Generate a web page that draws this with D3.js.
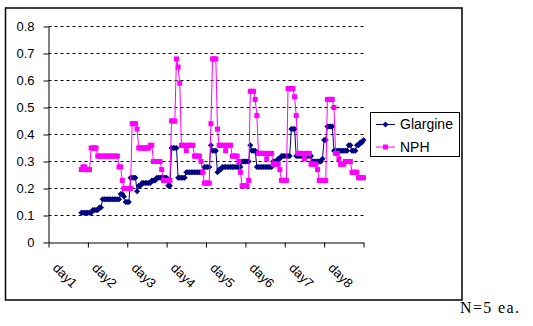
<!DOCTYPE html>
<html>
<head>
<meta charset="utf-8">
<script src="https://cdn.jsdelivr.net/npm/d3@7"></script>
<style>
  body { margin: 0; background: #fff; }
  svg { display: block; }
</style>
</head>
<body>
<script>
const width = 533;
const height = 326;

// category labels on the x axis (one per day, 24 hourly points each)
const days = ["day1", "day2", "day3", "day4", "day5", "day6", "day7", "day8"];
const hoursPerDay = 24;
const firstHour = 20; // both series start late on day1

const yTicks = [0, 0.1, 0.2, 0.3, 0.4, 0.5, 0.6, 0.7, 0.8];

// hourly values, hour 20 .. hour 192
const glargine = [
  0.11, 0.11, 0.11, 0.11, 0.11, 0.11, 0.11,
  0.12, 0.12, 0.12, 0.12,
  0.13, 0.13,
  0.16, 0.16, 0.16, 0.16, 0.16, 0.16, 0.16, 0.16, 0.16, 0.16, 0.16,
  0.18, 0.18, 0.17,
  0.15, 0.15, 0.15,
  0.24, 0.24, 0.24, 0.24,
  0.19, 0.21, 0.21,
  0.22, 0.22, 0.22, 0.22, 0.22, 0.22,
  0.23, 0.23, 0.23,
  0.24, 0.24, 0.24, 0.24, 0.24, 0.24, 0.24,
  0.21, 0.21,
  0.35, 0.35, 0.35, 0.35,
  0.24, 0.24, 0.24, 0.24, 0.24,
  0.26, 0.26, 0.26, 0.26, 0.26, 0.26, 0.26, 0.26, 0.26, 0.26, 0.26,
  0.28, 0.28, 0.28, 0.28,
  0.36, 0.34, 0.34, 0.34,
  0.26, 0.27, 0.27,
  0.28, 0.28, 0.28, 0.28, 0.28, 0.28, 0.28, 0.28, 0.28, 0.28, 0.28, 0.28,
  0.30, 0.30, 0.30, 0.30, 0.30,
  0.36, 0.34, 0.34, 0.34,
  0.28, 0.28, 0.28, 0.28, 0.28, 0.28, 0.28, 0.28, 0.28, 0.28,
  0.30, 0.30, 0.30,
  0.31, 0.31,
  0.32, 0.32, 0.32, 0.32, 0.32, 0.32,
  0.42, 0.42, 0.42,
  0.32, 0.32, 0.32, 0.32, 0.32, 0.32, 0.32, 0.32, 0.32, 0.32,
  0.30, 0.30, 0.30, 0.30, 0.30, 0.30,
  0.31, 0.38, 0.38,
  0.43, 0.43, 0.43, 0.43,
  0.34, 0.34, 0.34, 0.34, 0.34, 0.34, 0.34, 0.34, 0.34,
  0.36, 0.36, 0.34, 0.34, 0.34, 0.36, 0.36,
  0.37, 0.37, 0.38
];

const nph = [
  0.27, 0.28, 0.28, 0.27, 0.27, 0.27,
  0.35, 0.35, 0.35, 0.35,
  0.32, 0.32, 0.32, 0.32, 0.32, 0.32, 0.32, 0.32, 0.32, 0.32, 0.32, 0.32, 0.32,
  0.28, 0.28, 0.23,
  0.20, 0.20, 0.20, 0.20, 0.20,
  0.44, 0.44, 0.44, 0.42,
  0.35, 0.35, 0.35, 0.35, 0.35, 0.35, 0.35,
  0.36, 0.36,
  0.30, 0.30, 0.30, 0.30, 0.30,
  0.27,
  0.23, 0.23, 0.23, 0.23, 0.23,
  0.45, 0.45, 0.45,
  0.68, 0.65, 0.59,
  0.36, 0.36, 0.36, 0.34, 0.36, 0.36, 0.36, 0.36,
  0.32, 0.32, 0.32, 0.32,
  0.30, 0.26,
  0.22, 0.22, 0.22, 0.22,
  0.44, 0.68, 0.68, 0.68, 0.42,
  0.36, 0.36, 0.36, 0.36, 0.34, 0.36, 0.36, 0.36,
  0.32, 0.32, 0.32, 0.32,
  0.30, 0.26,
  0.21, 0.21, 0.21, 0.21,
  0.23, 0.56, 0.56, 0.56, 0.53, 0.47,
  0.33, 0.33, 0.33, 0.33, 0.33, 0.31, 0.33, 0.33, 0.33,
  0.29, 0.29, 0.29, 0.29,
  0.27,
  0.23, 0.23, 0.23, 0.23,
  0.57, 0.57, 0.57, 0.57, 0.54, 0.47,
  0.33, 0.33, 0.33, 0.33, 0.31, 0.33, 0.33, 0.33,
  0.29, 0.29, 0.29, 0.29,
  0.27,
  0.23, 0.23, 0.23, 0.23, 0.23,
  0.53, 0.53, 0.53, 0.53, 0.50,
  0.33, 0.33, 0.31,
  0.29, 0.29, 0.29,
  0.30, 0.30, 0.30, 0.30,
  0.26, 0.26, 0.26, 0.26,
  0.24, 0.24, 0.24, 0.24
];

const series = [
  { name: "Glargine", values: glargine, color: "#000080", marker: "diamond" },
  { name: "NPH", values: nph, color: "#ff00ff", marker: "square" }
];

const plot = { left: 48.5, right: 363.5, top: 26.5, bottom: 242.5 };

draw();

function draw() {
  let svg = d3.select("body")
              .append("svg")
              .attr("width", width)
              .attr("height", height)
              .style("font-family", "'Liberation Sans', Arial, sans-serif");

  svg.append("rect")
     .attr("width", width)
     .attr("height", height)
     .attr("fill", "#fff");

  // chart frame
  svg.append("rect")
     .attr("x", 5.5)
     .attr("y", 8)
     .attr("width", 456.5)
     .attr("height", 292)
     .attr("fill", "none")
     .attr("stroke", "#000")
     .attr("stroke-width", 1.5);

  const totalHours = days.length * hoursPerDay;

  let xScale = d3.scaleLinear()
                 .domain([0, totalHours])
                 .range([plot.left, plot.right]);

  let dayScale = d3.scaleBand()
                   .domain(days)
                   .range([plot.left, plot.right]);

  let yScale = d3.scaleLinear()
                 .domain([0, 0.8])
                 .range([plot.bottom, plot.top]);

  // dashed gridlines
  svg.append("g")
     .selectAll("line")
     .data(yTicks.filter(d => d > 0))
     .enter()
     .append("line")
     .attr("x1", plot.left)
     .attr("x2", plot.right)
     .attr("y1", d => yScale(d))
     .attr("y2", d => yScale(d))
     .attr("stroke", "#000")
     .attr("stroke-width", 1)
     .attr("stroke-dasharray", "3,3");

  let yAxis = d3.axisLeft(yScale)
                .tickValues(yTicks)
                .tickSize(5)
                .tickSizeOuter(0)
                .tickPadding(9)
                .tickFormat(d => d === 0 ? "0" : d3.format(".1f")(d));
  let yg = svg.append("g")
              .attr("transform", `translate(${plot.left}, 0)`)
              .call(yAxis);
  yg.selectAll("text")
    .attr("font-size", 13)
    .attr("font-family", "'Liberation Sans', Arial, sans-serif")
    .attr("fill", "#000");

  // tick marks between the day categories
  let xAxis = d3.axisBottom(xScale)
                .tickValues(d3.range(0, totalHours + 1, hoursPerDay))
                .tickSize(5)
                .tickSizeOuter(0)
                .tickFormat("");
  svg.append("g")
     .attr("transform", `translate(0, ${plot.bottom})`)
     .call(xAxis);

  // rotated day labels in the middle of each category
  let dayAxis = d3.axisBottom(dayScale)
                  .tickSize(0);
  let dg = svg.append("g")
              .attr("transform", `translate(0, ${plot.bottom})`)
              .call(dayAxis);
  dg.select(".domain").remove();
  dg.selectAll("text")
    .attr("y", 0)
    .attr("x", 0)
    .attr("dy", "0.35em")
    .attr("text-anchor", "middle")
    .attr("transform", "translate(-3, 33) rotate(45)")
    .attr("font-size", 13)
    .attr("font-family", "'Liberation Sans', Arial, sans-serif")
    .attr("fill", "#000");

  let line = d3.line()
               .x((d, i) => xScale(firstHour + i))
               .y(d => yScale(d));

  series.forEach(s => {
    let g = svg.append("g");
    g.append("path")
     .datum(s.values)
     .attr("d", line)
     .attr("fill", "none")
     .attr("stroke", s.color)
     .attr("stroke-width", 1);

    g.selectAll("path.marker")
     .data(s.values)
     .enter()
     .append("path")
     .attr("class", "marker")
     .attr("d", markerPath(s.marker))
     .attr("transform", (d, i) => `translate(${xScale(firstHour + i)}, ${yScale(d)})`)
     .attr("fill", s.color);
  });

  // legend
  let legend = svg.append("g");
  legend.append("rect")
        .attr("x", 370.5)
        .attr("y", 112.5)
        .attr("width", 89)
        .attr("height", 44)
        .attr("fill", "#fff")
        .attr("stroke", "#000")
        .attr("stroke-width", 1);

  series.forEach((s, i) => {
    let ly = 124.5 + i * 22.5;
    legend.append("line")
          .attr("x1", 376)
          .attr("x2", 395)
          .attr("y1", ly)
          .attr("y2", ly)
          .attr("stroke", s.color)
          .attr("stroke-width", 1);
    legend.append("path")
          .attr("d", markerPath(s.marker))
          .attr("transform", `translate(385.5, ${ly})`)
          .attr("fill", s.color);
    legend.append("text")
          .attr("x", 400)
          .attr("y", ly)
          .attr("dy", "0.35em")
          .attr("font-size", 14)
          .attr("fill", "#000")
          .text(s.name);
  });

  svg.append("text")
     .attr("x", 460)
     .attr("y", 313)
     .attr("font-family", "'Liberation Serif', 'Times New Roman', serif")
     .attr("font-size", 16)
     .attr("textLength", 59)
     .attr("fill", "#000")
     .text("N=5 ea.");
}

function markerPath(type) {
  if (type === "diamond") {
    return "M0,-3L3,0L0,3L-3,0Z";
  }
  return "M-2.5,-2.5H2.5V2.5H-2.5Z";
}
</script>
</body>
</html>
